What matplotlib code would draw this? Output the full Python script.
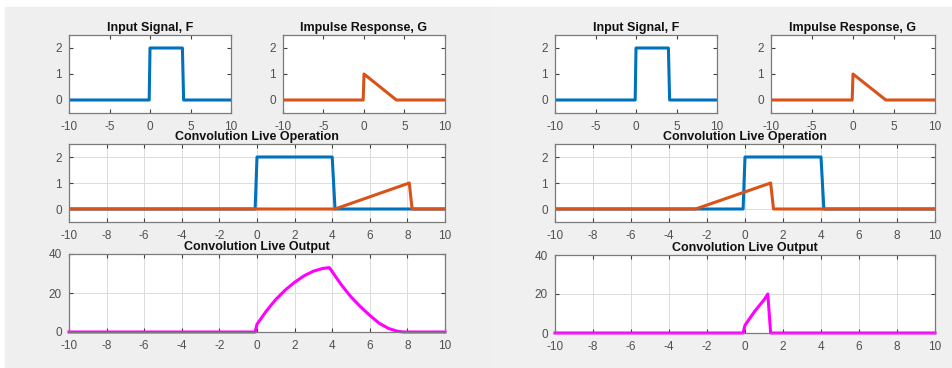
import matplotlib
matplotlib.use("Agg")
import matplotlib.pyplot as plt
from matplotlib.patches import Rectangle

plt.rcParams['font.family'] = ['Liberation Sans', 'DejaVu Sans']

# ---- data ----
# input signal F and impulse response G
f_x = [-10, -0.1, 0, 4, 4.15, 10]
f_y = [0, 0, 2, 2, 0, 0]
g_x = [-10, -0.1, 0, 4, 10]
g_y = [0, 0, 1, 0, 0]

# flipped + shifted G in the live operation panels
op_left_x = [-10, 4.15, 8.1, 8.25, 10]
op_right_x = [-10, -2.6, 1.35, 1.5, 10]
op_y = [0, 0, 1, 0, 0]

# live output so far
out_left_x = [-10, -0.1, 0, 0.5, 1, 1.5, 2, 2.5, 3, 3.5, 3.85,
              4.5, 5, 5.5, 6, 6.5, 7, 7.5, 7.8, 10]
out_left_y = [0, 0, 4, 10.8, 16.7, 21.5, 25.5, 28.8, 31.2, 32.6, 33,
              24, 18, 13, 8.5, 4.5, 1.8, 0.3, 0, 0]
out_right_x = [-10, -0.1, 0, 0.5, 1, 1.2, 1.35, 10]
out_right_y = [0, 0, 4, 11, 17, 20, 0, 0]

BLUE = '#0072BD'
ORANGE = '#D95319'
MAGENTA = '#FF00FF'
W, H = 953, 368

fig = plt.figure(figsize=(W / 100, H / 100), dpi=100, facecolor='white')

# grey window backgrounds
fig.patches.append(Rectangle((5 / W, 0), (491 - 5) / W, 1 - 7 / H,
                             transform=fig.transFigure, color='#efefef', zorder=-5))
fig.patches.append(Rectangle((491 / W, 0), 1 - 491 / W, 1 - 7 / H,
                             transform=fig.transFigure, color='#f0f0f0', zorder=-5))


def box(x0, y0, x1, y1):
    return fig.add_axes([x0 / W, 1 - y1 / H, (x1 - x0) / W, (y1 - y0) / H])


def style(ax, title, xticks, yticks, ylim, grid=False):
    ax.set_xlim(-10, 10)
    ax.set_ylim(*ylim)
    ax.set_xticks(xticks)
    ax.set_yticks(yticks)
    ax.set_xticklabels([str(t) for t in xticks])
    ax.tick_params(direction='in', length=3, labelsize=8.5, colors='#404040',
                   labelcolor='#505050', pad=6, top=True, right=True)
    ax.tick_params(axis='y', pad=5)
    for s in ax.spines.values():
        s.set_color('#7a7a7a')
        s.set_linewidth(0.9)
    if grid:
        ax.grid(True, color='#dcdcdc', linewidth=0.7)
        ax.set_axisbelow(True)
    ax.set_title(title, fontsize=9, fontweight='bold', pad=3, color='#111111')


def window(dx, op_x, out_x, out_y, bottom_shift):
    ax1 = box(69 + dx, 35, 231 + dx, 113)
    ax1.plot(f_x, f_y, color=BLUE, lw=2.2)
    style(ax1, 'Input Signal, F', [-10, -5, 0, 5, 10], [0, 1, 2], (-0.5, 2.5))

    ax2 = box(283 + dx + (2 if dx else 0), 35, 445 + dx + (4 if dx else 0), 113)
    ax2.plot(g_x, g_y, color=ORANGE, lw=2.2)
    style(ax2, 'Impulse Response, G', [-10, -5, 0, 5, 10], [0, 1, 2], (-0.5, 2.5))

    ax3 = box(69 + dx, 144, 445 + dx + (4 if dx else 0), 222)
    ax3.plot(f_x, f_y, color=BLUE, lw=2.2)
    ax3.plot(op_x, op_y, color=ORANGE, lw=2.2)
    style(ax3, 'Convolution Live Operation', list(range(-10, 11, 2)), [0, 1, 2],
          (-0.5, 2.5), grid=True)

    ax4 = box(69 + dx, 254 + bottom_shift, 445 + dx + (4 if dx else 0), 332 + bottom_shift)
    ax4.plot(out_x, out_y, color=MAGENTA, lw=2.2, clip_on=False)
    style(ax4, 'Convolution Live Output', list(range(-10, 11, 2)), [0, 20, 40],
          (0, 40), grid=True)


window(0, op_left_x, out_left_x, out_left_y, 0)
window(486, op_right_x, out_right_x, out_right_y, 1)

fig.savefig('out.png', dpi=100, facecolor=fig.get_facecolor())
